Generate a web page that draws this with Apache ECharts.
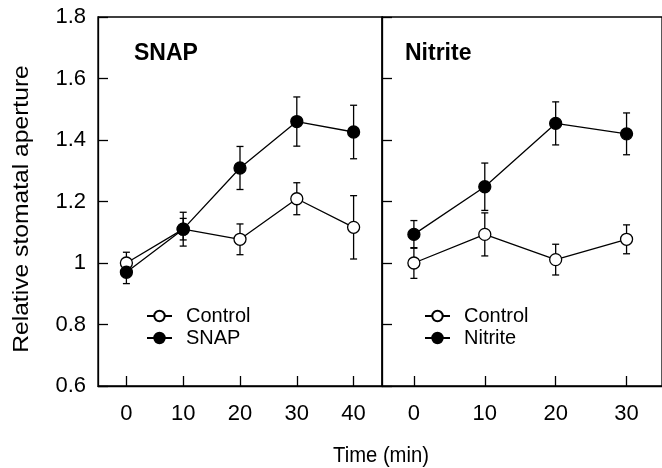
<!DOCTYPE html>
<html>
<head>
<meta charset="utf-8">
<script src="https://cdn.jsdelivr.net/npm/echarts@6/dist/echarts.min.js"></script>
<style>
  html, body { margin: 0; padding: 0; background: #fff; }
  #main { width: 662px; height: 468px; }
</style>
</head>
<body>
<div id="main"></div>
<script>
// data
var snapTime = [0, 10, 20, 30, 40];
var snapControl = [1.00, 1.11, 1.077, 1.209, 1.116];
var snapControlErr = [0.035, 0.055, 0.05, 0.052, 0.103];
var snapValues = [0.97, 1.11, 1.309, 1.46, 1.426];
var snapErr = [0.037, 0.035, 0.07, 0.08, 0.087];

var nitriteTime = [0, 10, 20, 30];
var nitriteControl = [1.0, 1.093, 1.011, 1.077];
var nitriteControlErr = [0.05, 0.07, 0.05, 0.047];
var nitriteValues = [1.093, 1.248, 1.454, 1.42];
var nitriteErr = [0.045, 0.077, 0.07, 0.068];

var snapTicks = [0, 10, 20, 30, 40];
var nitriteTicks = [0, 10, 20, 30];

var font = 'Liberation Sans, Arial, Helvetica, sans-serif';
var lw = 1.3;

function pairs(xs, ys) {
    return xs.map(function (x, i) { return [x, ys[i]]; });
}
function errData(xs, ys, es) {
    return xs.map(function (x, i) { return [x, ys[i] - es[i], ys[i] + es[i]]; });
}
function errRender(params, api) {
    var x = api.value(0);
    var lo = api.coord([x, api.value(1)]);
    var hi = api.coord([x, api.value(2)]);
    var st = { stroke: '#000', lineWidth: lw };
    var cw = 3.5;
    return {
        type: 'group',
        children: [
            { type: 'line', shape: { x1: lo[0], y1: lo[1], x2: hi[0], y2: hi[1] }, style: st },
            { type: 'line', shape: { x1: lo[0] - cw, y1: lo[1], x2: lo[0] + cw, y2: lo[1] }, style: st },
            { type: 'line', shape: { x1: hi[0] - cw, y1: hi[1], x2: hi[0] + cw, y2: hi[1] }, style: st }
        ]
    };
}
function lineSeries(name, idx, xs, ys, fill) {
    return {
        name: name,
        type: 'line',
        xAxisIndex: idx,
        yAxisIndex: idx,
        data: pairs(xs, ys),
        symbol: 'circle',
        symbolSize: 12,
        showSymbol: true,
        z: 5,
        lineStyle: { color: '#000', width: lw },
        itemStyle: { color: fill, borderColor: '#000', borderWidth: lw },
        emphasis: { disabled: true },
        animation: false
    };
}
function errSeries(idx, xs, ys, es) {
    return {
        type: 'custom',
        xAxisIndex: idx,
        yAxisIndex: idx,
        data: errData(xs, ys, es),
        renderItem: errRender,
        z: 3,
        silent: true,
        animation: false
    };
}

var xAxisBase = {
    type: 'value',
    splitLine: { show: false },
    axisLine: { show: true, onZero: false, lineStyle: { color: '#000', width: lw } },
    axisTick: { inside: true, length: 10, lineStyle: { color: '#000', width: lw } },
    axisLabel: { color: '#000', fontSize: 22, fontFamily: font, margin: 17 }
};
var yAxisBase = {
    type: 'value',
    min: 0.6,
    max: 1.8,
    interval: 0.2,
    splitLine: { show: false },
    axisLine: { show: true, onZero: false, lineStyle: { color: '#000', width: lw } },
    axisTick: { inside: true, length: 10, lineStyle: { color: '#000', width: lw } }
};
var legendText = { color: '#000', fontSize: 20, fontFamily: font, padding: [0, 0, 0, 9] };

var myChart = echarts.init(document.getElementById('main'), null, { renderer: 'canvas' });

var option = {
    backgroundColor: '#fff',
    animation: false,
    grid: [
        { left: 98, top: 17, width: 284, height: 369, show: true, borderColor: '#000', borderWidth: lw, backgroundColor: 'transparent' },
        { left: 382, top: 17, right: -3, height: 369, show: true, borderColor: '#000', borderWidth: lw, backgroundColor: 'transparent' }
    ],
    xAxis: [
        Object.assign({}, xAxisBase, {
            gridIndex: 0, min: -5, max: 45,
            axisTick: Object.assign({}, xAxisBase.axisTick, { customValues: snapTicks }),
            axisLabel: Object.assign({}, xAxisBase.axisLabel, { customValues: snapTicks })
        }),
        Object.assign({}, xAxisBase, {
            gridIndex: 1, min: -4.5, max: 35,
            axisTick: Object.assign({}, xAxisBase.axisTick, { customValues: nitriteTicks }),
            axisLabel: Object.assign({}, xAxisBase.axisLabel, { customValues: nitriteTicks })
        })
    ],
    yAxis: [
        Object.assign({}, yAxisBase, {
            gridIndex: 0,
            axisLabel: {
                color: '#000', fontSize: 22, fontFamily: font, margin: 12,
                formatter: function (v) { return String(Math.round(v * 10) / 10); }
            }
        }),
        Object.assign({}, yAxisBase, { gridIndex: 1, axisLabel: { show: false } })
    ],
    legend: [
        {
            data: ['Control', 'SNAP'],
            orient: 'vertical',
            left: 141, top: 301,
            itemWidth: 25, itemHeight: 13, itemGap: 2,
            selectedMode: false,
            textStyle: legendText
        },
        {
            data: ['Control', 'Nitrite'],
            orient: 'vertical',
            left: 419, top: 301,
            itemWidth: 25, itemHeight: 13, itemGap: 2,
            selectedMode: false,
            textStyle: legendText
        }
    ],
    graphic: [
        { type: 'text', x: 134, y: 54, style: { text: 'SNAP', font: 'bold 23px ' + font, fill: '#000', textVerticalAlign: 'middle' } },
        { type: 'text', x: 405, y: 54, style: { text: 'Nitrite', font: 'bold 23px ' + font, fill: '#000', textVerticalAlign: 'middle' } },
        { type: 'text', x: 381, y: 456, scaleX: 0.92, style: { text: 'Time (min)', font: '22px ' + font, fill: '#000', textAlign: 'center', textVerticalAlign: 'middle' } },
        { type: 'text', x: 22, y: 209, rotation: Math.PI / 2, scaleX: 1.12, style: { text: 'Relative stomatal aperture', font: '22px ' + font, fill: '#000', textAlign: 'center', textVerticalAlign: 'middle' } }
    ],
    series: [
        errSeries(0, snapTime, snapControl, snapControlErr),
        errSeries(0, snapTime, snapValues, snapErr),
        lineSeries('Control', 0, snapTime, snapControl, '#fff'),
        lineSeries('SNAP', 0, snapTime, snapValues, '#000'),
        errSeries(1, nitriteTime, nitriteControl, nitriteControlErr),
        errSeries(1, nitriteTime, nitriteValues, nitriteErr),
        lineSeries('Control', 1, nitriteTime, nitriteControl, '#fff'),
        lineSeries('Nitrite', 1, nitriteTime, nitriteValues, '#000')
    ]
};

myChart.setOption(option);
</script>
</body>
</html>
